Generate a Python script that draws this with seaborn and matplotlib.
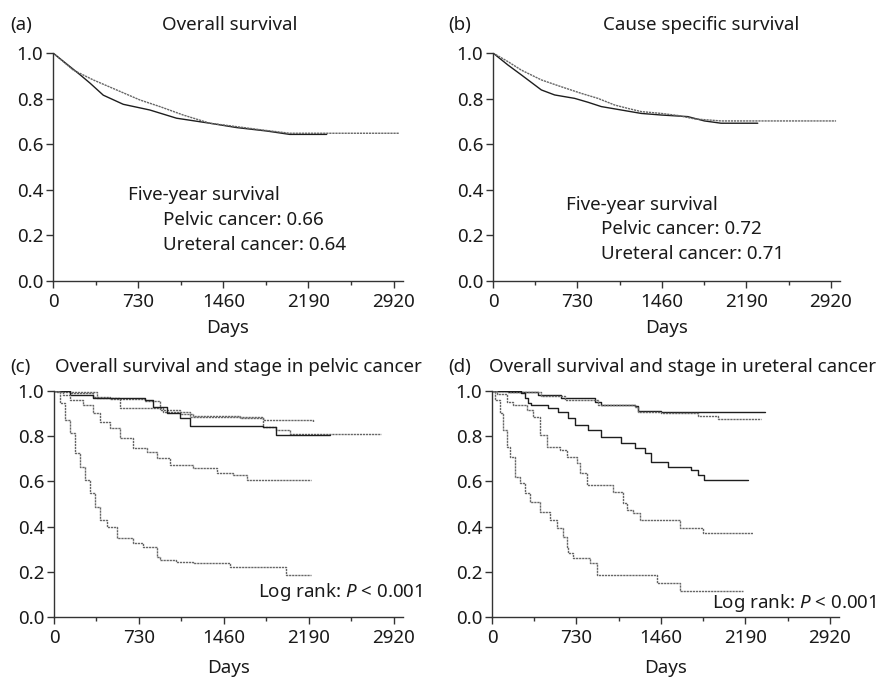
import numpy as np
import pandas as pd
import matplotlib
matplotlib.use("Agg")
import matplotlib.pyplot as plt
import seaborn as sns

# ---------------- data ----------------
# (a) overall survival
a_pelvic_days = [0, 146, 231, 317, 431, 602, 830, 1059, 1344, 1573, 1829, 2029, 2346]
a_pelvic_surv = [1.0, 0.940, 0.905, 0.868, 0.815, 0.775, 0.750, 0.714, 0.692, 0.673, 0.658, 0.643, 0.643]
a_ureter_days = [0, 174, 345, 545, 745, 916, 1116, 1344, 1573, 1801, 2029, 2970]
a_ureter_surv = [1.0, 0.925, 0.882, 0.838, 0.794, 0.765, 0.728, 0.692, 0.677, 0.662, 0.648, 0.648]

# (b) cause specific survival
b_pelvic_days = [0, 130, 245, 418, 533, 706, 821, 936, 1109, 1281, 1454, 1684, 1828, 1972, 2289]
b_pelvic_surv = [1.0, 0.947, 0.904, 0.838, 0.816, 0.801, 0.784, 0.765, 0.750, 0.735, 0.728, 0.721, 0.702, 0.692, 0.692]
b_ureter_days = [0, 130, 245, 418, 590, 763, 907, 1051, 1166, 1281, 1454, 1598, 1742, 1972, 2966]
b_ureter_surv = [1.0, 0.962, 0.925, 0.882, 0.852, 0.823, 0.801, 0.772, 0.757, 0.743, 0.735, 0.726, 0.711, 0.702, 0.702]

# (c) stage, pelvic cancer
c_s1_days = [0, 137, 338, 481, 782, 910, 1082, 1197, 1597, 1798, 2227]
c_s1_surv = [1.0, 0.990, 0.975, 0.965, 0.956, 0.916, 0.897, 0.889, 0.886, 0.872, 0.864]
c_s2_days = [0, 80, 366, 567, 839, 939, 1168, 1597, 1798, 1912, 2027, 2814]
c_s2_surv = [1.0, 0.994, 0.970, 0.926, 0.923, 0.909, 0.886, 0.879, 0.842, 0.828, 0.808, 0.808]
c_s3_days = [0, 137, 338, 782, 853, 968, 1082, 1168, 1798, 1912, 2370]
c_s3_surv = [1.0, 0.982, 0.968, 0.960, 0.931, 0.901, 0.879, 0.847, 0.842, 0.805, 0.805]
c_s4_days = [0, 23, 80, 137, 252, 338, 395, 481, 567, 681, 796, 882, 996, 1197, 1397, 1540, 1655, 2213]
c_s4_surv = [1.0, 0.997, 0.982, 0.960, 0.938, 0.901, 0.864, 0.835, 0.791, 0.746, 0.732, 0.702, 0.673, 0.658, 0.636, 0.628, 0.606, 0.606]
c_s5_days = [0, 9, 52, 94, 137, 180, 223, 266, 309, 352, 395, 452, 538, 681, 767, 882, 910, 1053, 1197, 1511, 1998, 2213]
c_s5_surv = [1.0, 1.0, 0.945, 0.872, 0.813, 0.724, 0.665, 0.606, 0.547, 0.488, 0.429, 0.400, 0.348, 0.326, 0.311, 0.267, 0.252, 0.245, 0.237, 0.223, 0.186, 0.186]

# (d) stage, ureteral cancer
d_s1_days = [0, 138, 397, 599, 887, 945, 1233, 1261, 1463, 2356]
d_s1_surv = [1.0, 0.997, 0.982, 0.968, 0.953, 0.938, 0.935, 0.912, 0.909, 0.909]
d_s2_days = [0, 138, 420, 628, 916, 1233, 1261, 1463, 1780, 1952, 2327]
d_s2_surv = [1.0, 0.994, 0.976, 0.960, 0.938, 0.931, 0.909, 0.901, 0.891, 0.876, 0.876]
d_s3_days = [0, 138, 253, 282, 311, 340, 484, 570, 657, 714, 829, 945, 1117, 1233, 1319, 1377, 1521, 1722, 1780, 1837, 2212]
d_s3_surv = [1.0, 1.0, 0.990, 0.968, 0.946, 0.938, 0.923, 0.909, 0.879, 0.850, 0.828, 0.798, 0.769, 0.746, 0.724, 0.687, 0.665, 0.650, 0.628, 0.606, 0.606]
d_s4_days = [0, 40, 127, 184, 300, 357, 415, 472, 588, 645, 732, 760, 818, 1048, 1135, 1163, 1221, 1279, 1624, 1826, 2258]
d_s4_surv = [1.0, 0.987, 0.953, 0.938, 0.916, 0.886, 0.805, 0.754, 0.739, 0.709, 0.680, 0.636, 0.584, 0.555, 0.503, 0.473, 0.459, 0.429, 0.392, 0.373, 0.373]
d_s5_days = [0, 26, 69, 98, 127, 156, 199, 242, 285, 328, 415, 501, 559, 616, 645, 660, 703, 847, 905, 1423, 1624, 2172]
d_s5_surv = [1.0, 0.960, 0.901, 0.827, 0.754, 0.709, 0.621, 0.591, 0.547, 0.510, 0.466, 0.429, 0.392, 0.355, 0.311, 0.282, 0.260, 0.237, 0.186, 0.149, 0.117, 0.117]

x_ticks = [0, 730, 1460, 2190, 2920]
y_ticks = [0.0, 0.2, 0.4, 0.6, 0.8, 1.0]

panel_letters = ["(a)", "(b)", "(c)", "(d)"]
panel_titles = ["Overall survival", "Cause specific survival",
                "Overall survival and stage in pelvic cancer",
                "Overall survival and stage in ureteral cancer"]
five_year_a = ["Five-year survival", "Pelvic cancer: 0.66", "Ureteral cancer: 0.64"]
five_year_b = ["Five-year survival", "Pelvic cancer: 0.72", "Ureteral cancer: 0.71"]
log_rank = r"Log rank: $\mathit{P}$ < 0.001"

# ---------------- style ----------------
sns.set_theme(style="ticks")
plt.rcParams["font.family"] = ["Noto Sans", "DejaVu Sans"]
plt.rcParams["mathtext.fontset"] = "custom"
plt.rcParams["mathtext.rm"] = "Noto Sans"
plt.rcParams["mathtext.it"] = "Noto Sans:italic"

DARK = "#1e1e1e"
GREY = "#666666"
TXT = "#1a1a1a"
FS = 13.5

W, H = 881, 680
fig = plt.figure(figsize=(W / 100, H / 100), dpi=100)


def frac_box(left_px, bottom_px, width_px, height_px):
    return [left_px / W, 1 - bottom_px / H, width_px / W, height_px / H]


boxes = [
    frac_box(53, 281, 350, 228),
    frac_box(493, 281, 347, 228),
    frac_box(54, 617, 349, 226),
    frac_box(492, 617, 347, 226),
]

panels = [
    [("p", a_pelvic_days, a_pelvic_surv, "solid"), ("u", a_ureter_days, a_ureter_surv, "dot")],
    [("p", b_pelvic_days, b_pelvic_surv, "solid"), ("u", b_ureter_days, b_ureter_surv, "dot")],
    [("s1", c_s1_days, c_s1_surv, "dot"), ("s2", c_s2_days, c_s2_surv, "dot"),
     ("s3", c_s3_days, c_s3_surv, "solid"), ("s4", c_s4_days, c_s4_surv, "dot"),
     ("s5", c_s5_days, c_s5_surv, "dot")],
    [("s1", d_s1_days, d_s1_surv, "solid"), ("s2", d_s2_days, d_s2_surv, "dot"),
     ("s3", d_s3_days, d_s3_surv, "solid"), ("s4", d_s4_days, d_s4_surv, "dot"),
     ("s5", d_s5_days, d_s5_surv, "dot")],
]
# panels (a) and (b) have very fine steps that read as smooth lines
draw_styles = ["default", "default", "steps-post", "steps-post"]

axes = []
for i, (box, curves) in enumerate(zip(boxes, panels)):
    ax = fig.add_axes(box)
    axes.append(ax)
    rows = []
    for name, d, s, kind in curves:
        for xx, yy in zip(d, s):
            rows.append({"day": xx, "surv": yy, "group": name, "kind": kind})
    df = pd.DataFrame(rows)
    pal = {name: (DARK if kind == "solid" else GREY) for name, _, _, kind in curves}
    dsh = {name: ("" if kind == "solid" else (1.6, 0.6)) for name, _, _, kind in curves}
    sns.lineplot(data=df, x="day", y="surv", hue="group", style="group",
                 palette=pal, dashes=dsh, estimator=None, sort=False,
                 drawstyle=draw_styles[i], linewidth=1.0, legend=False, ax=ax)
    ax.set_xlim(0, 3000)
    ax.set_ylim(0, 1.0)
    ax.set_xticks(x_ticks)
    ax.set_xticks([365, 1095, 1825, 2555], minor=True)
    ax.set_yticks(y_ticks)
    ax.set_yticklabels([f"{v:.1f}" for v in y_ticks])
    ax.set_ylabel("")
    ax.set_xlabel("Days", fontsize=FS, color=TXT)
    ax.xaxis.set_label_coords(0.5, -0.205 if i < 2 else -0.225)
    ax.xaxis.label.set_va("center")
    for sp in ["top", "right"]:
        ax.spines[sp].set_visible(False)
    for sp in ["left", "bottom"]:
        ax.spines[sp].set_color("#333333")
        ax.spines[sp].set_linewidth(1.0)
    ax.tick_params(axis="x", which="major", length=5, width=1.0, pad=3.5,
                   labelsize=FS, colors="#333333", labelcolor=TXT)
    ax.tick_params(axis="x", which="minor", length=3, width=1.0, colors="#333333")
    ax.tick_params(axis="y", which="major", length=5, width=1.0, pad=2,
                   labelsize=FS, colors="#333333", labelcolor=TXT)
    ax.patch.set_alpha(0)

# titles and panel letters (pixel positions -> figure fractions)
def ftext(xp, yp, s, ha="left"):
    fig.text(xp / W, 1 - yp / H, s, ha=ha, va="center", fontsize=FS, color=TXT)

ftext(10, 25, panel_letters[0])
ftext(230, 25, panel_titles[0], ha="center")
ftext(448, 25, panel_letters[1])
ftext(701, 25, panel_titles[1], ha="center")
ftext(10, 367, panel_letters[2])
ftext(55, 367, panel_titles[2])
ftext(448, 367, panel_letters[3])
ftext(876, 367, panel_titles[3], ha="right")

# five-year survival annotations
for ax, lines, pos in [(axes[0], five_year_a, [(642, 0.377), (942, 0.268), (942, 0.158)]),
                       (axes[1], five_year_b, [(631, 0.333), (933, 0.228), (933, 0.118)])]:
    for s, (xx, yy) in zip(lines, pos):
        ax.text(xx, yy, s, ha="left", va="center", fontsize=FS, color=TXT)

axes[2].text(3169, 0.11, log_rank, ha="right", va="center", fontsize=FS, color=TXT)
axes[3].text(3326, 0.062, log_rank, ha="right", va="center", fontsize=FS, color=TXT)

fig.savefig("out.png", dpi=100, facecolor="white")
